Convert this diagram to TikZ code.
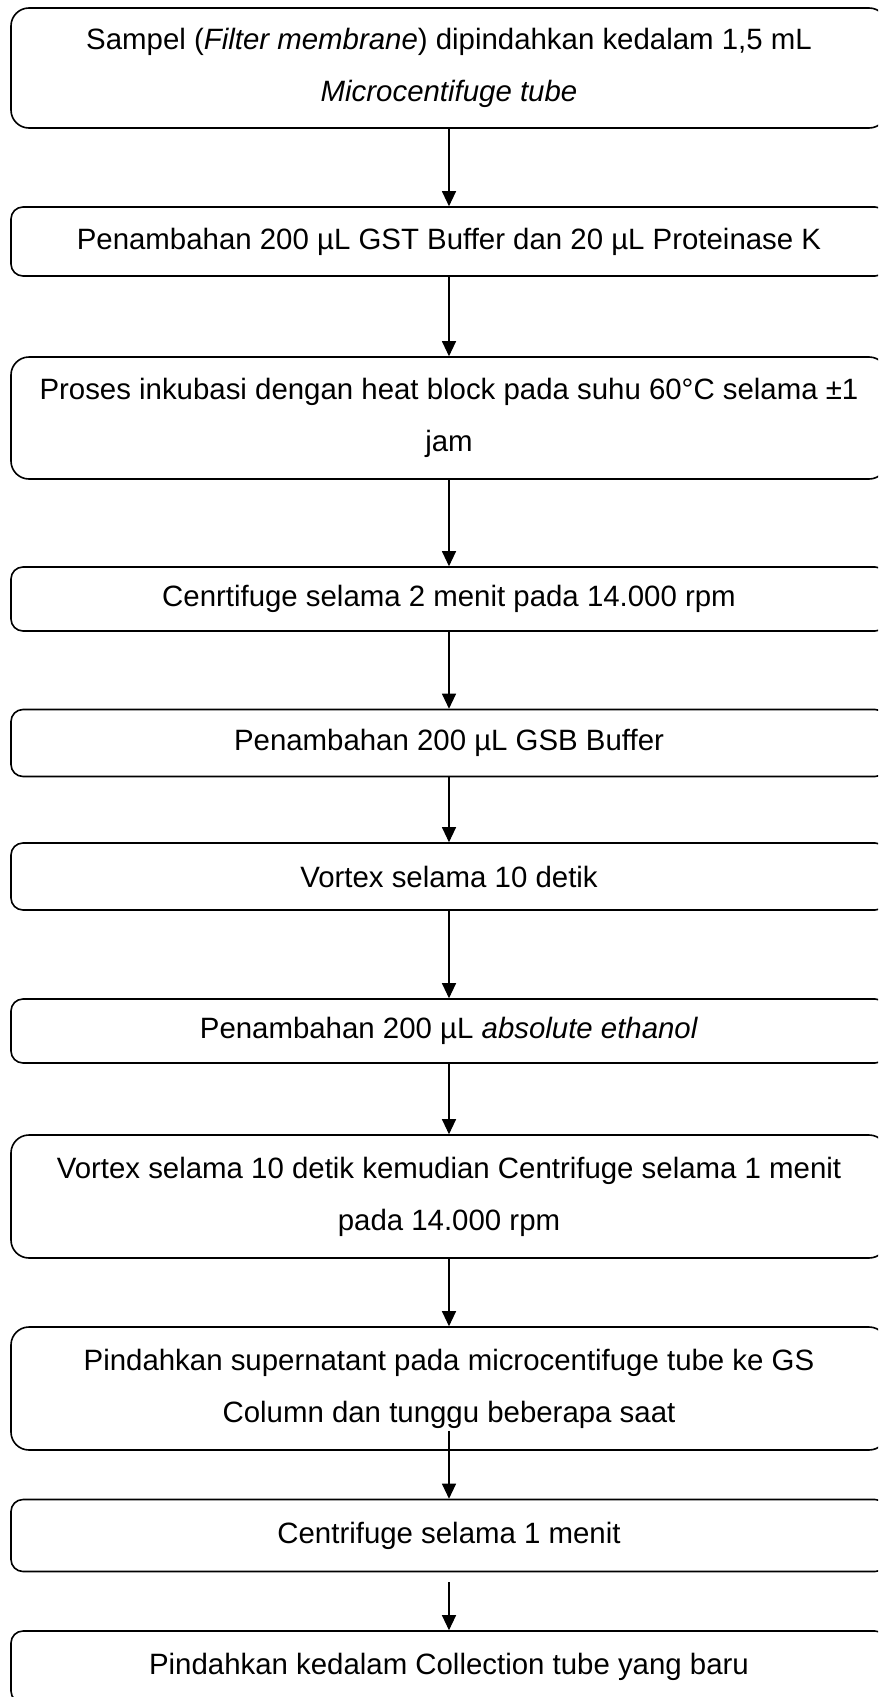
\documentclass[tikz,border=0pt]{standalone}
\usepackage{fontspec}
\setmainfont{Liberation Sans}
\usepackage{tikz}
\usetikzlibrary{positioning,arrows.meta}

\tikzset{
  proc/.style={draw, line width=1.6pt, rounded corners=12pt, minimum width=876pt,
    inner sep=0pt, align=center, font=\fontsize{29.4}{52}\selectfont},
  proctall/.style={proc, rounded corners=18pt},
  flow/.style={-{Triangle[length=15pt,width=14pt]}, line width=1.1pt}
}

\begin{document}
\begin{tikzpicture}[x=1pt, y=-1pt]
      \useasboundingbox (0,0) rectangle (878,1697);
      \clip (0,0) rectangle (878,1697);

      \node[proctall, minimum height=120pt] (sampel) at (449,68) {Sampel (\textit{Filter membrane}) dipindahkan kedalam 1,5 mL\\\textit{Microcentifuge tube}};
      \node[proc, minimum height=69pt] (gst) at (449,241.5) {Penambahan 200 µL GST Buffer dan 20 µL Proteinase K};
      \node[proctall, minimum height=122pt] (inkubasi) at (449,418) {Proses inkubasi dengan heat block pada suhu 60°C selama ±1\\jam};
      \node[proc, minimum height=64pt] (spin) at (449,599) {Cenrtifuge selama 2 menit pada 14.000 rpm};
      \node[proc, minimum height=67pt] (gsb) at (449,743) {Penambahan 200 µL GSB Buffer};
      \node[proc, minimum height=67pt] (vortex) at (449,876.5) {Vortex selama 10 detik};
      \node[proc, minimum height=64pt] (etanol) at (449,1031) {Penambahan 200 µL \textit{absolute ethanol}};
      \node[proctall, minimum height=123pt] (vortexspin) at (449,1196.5) {Vortex selama 10 detik kemudian Centrifuge selama 1 menit\\pada 14.000 rpm};
      \node[proctall, minimum height=123pt] (kolom) at (449,1388.5) {Pindahkan supernatant pada microcentifuge tube ke GS\\Column dan tunggu beberapa saat};
      \node[proc, minimum height=72pt] (spinakhir) at (449,1535.5) {Centrifuge selama 1 menit};
      \node[proc, minimum height=72pt] (koleksi) at (449,1667) {Pindahkan kedalam Collection tube yang baru};

      \draw[flow] (sampel) -- (gst);
      \draw[flow] (gst) -- (inkubasi);
      \draw[flow] (inkubasi) -- (spin);
      \draw[flow] (spin) -- (gsb);
      \draw[flow] (gsb) -- (vortex);
      \draw[flow] (vortex) -- (etanol);
      \draw[flow] (etanol) -- (vortexspin);
      \draw[flow] (vortexspin) -- (kolom);
      \draw[flow] ([yshift=20pt]kolom.south) -- (spinakhir.north);
      \draw[flow] ([yshift=-10pt]spinakhir.south) -- (koleksi.north);
\end{tikzpicture}
\end{document}
